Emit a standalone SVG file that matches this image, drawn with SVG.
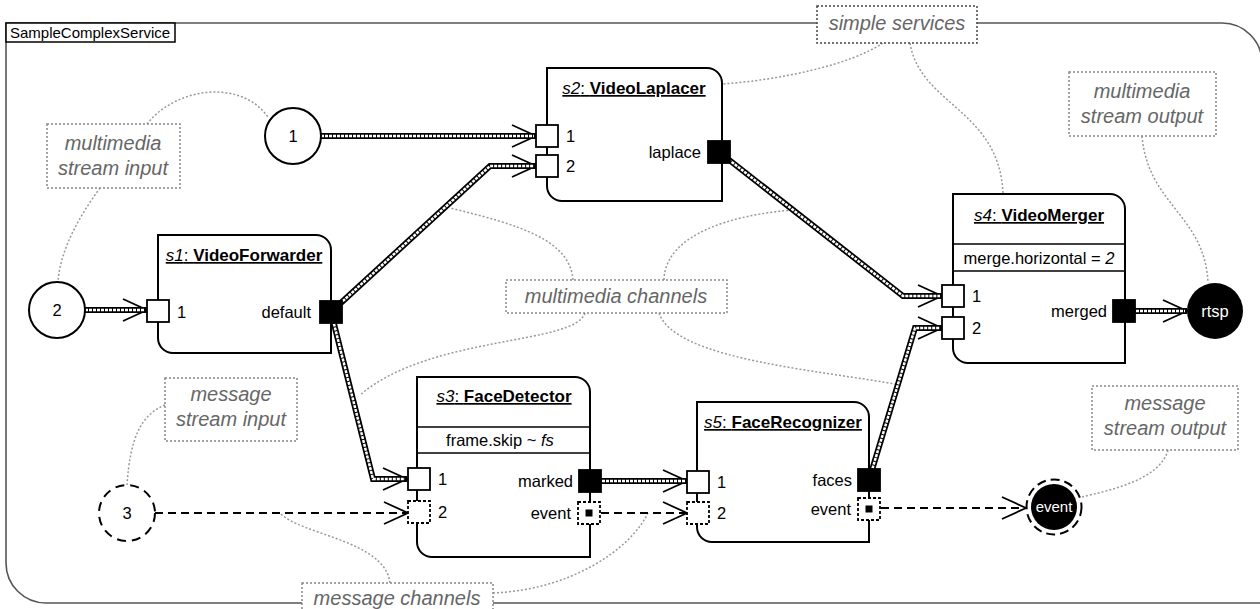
<svg xmlns="http://www.w3.org/2000/svg" width="1260" height="609" viewBox="0 0 1260 609">
<style>
text{font-family:"Liberation Sans",Arial,sans-serif;}
.frame{fill:none;stroke:#555;stroke-width:1.6;}
.box{fill:#fff;stroke:#000;stroke-width:2;}
.sep{stroke:#000;stroke-width:1.5;}
.port{fill:#fff;stroke:#000;stroke-width:1.8;}
.oport{fill:#000;stroke:#000;stroke-width:1.8;}
.mport{fill:#fff;stroke:#000;stroke-width:1.8;stroke-dasharray:3 2;}
.node{fill:#fff;stroke:#000;stroke-width:2;}
.lbl{font-size:16.5px;fill:#000;}
.title{font-size:17px;fill:#000;text-anchor:middle;text-decoration:underline;}
.b{font-weight:bold;}
.i{font-style:italic;}
.note{fill:#fff;stroke:#888;stroke-width:1.5;stroke-dasharray:2 2;}
.ntext{font-size:20px;font-style:italic;fill:#666;text-anchor:middle;}
.lead{fill:none;stroke:#999;stroke-width:1.5;stroke-dasharray:2 2;}
.mmo{fill:none;stroke:#000;stroke-width:6;stroke-linejoin:miter;}
.mmi{fill:none;stroke:#fff;stroke-width:2.5;stroke-dasharray:3 1;}
.msg{fill:none;stroke:#000;stroke-width:1.8;stroke-dasharray:8 5;}
</style>
<defs>
<marker id="arr" markerUnits="userSpaceOnUse" markerWidth="30" markerHeight="30" viewBox="-27 -14 30 28" refX="0" refY="0" orient="auto" overflow="visible">
<path d="M-24,-11 L0,0 L-24,11" fill="none" stroke="#000" stroke-width="1.8"/>
</marker>
</defs>

<g id="frame">
<path class="frame" d="M6,23 H1222 A40,40 0 0 1 1262,63 V603 H46 A40,40 0 0 1 6,563 Z"/>
<rect x="6" y="23" width="169" height="19" fill="#fff" stroke="#000" stroke-width="1.5"/>
<text x="10" y="38" font-size="15px">SampleComplexService</text>
</g>

<g id="leaders">
<path class="lead" d="M147,124 C175,88 240,78 268,117"/>
<path class="lead" d="M100,188 C80,215 60,250 58,282"/>
<path class="lead" d="M883,43 C850,65 780,80 722,84"/>
<path class="lead" d="M910,43 C920,105 1000,110 1003,194"/>
<path class="lead" d="M1142,136 C1148,205 1205,215 1208,283"/>
<path class="lead" d="M573,280 C570,240 520,225 450,208"/>
<path class="lead" d="M664,280 C665,235 730,215 793,210"/>
<path class="lead" d="M585,313 C575,345 430,335 360,395"/>
<path class="lead" d="M659,313 C675,360 820,370 900,385"/>
<path class="lead" d="M165,405 C140,415 130,440 127,485"/>
<path class="lead" d="M390,583 C385,540 300,535 280,513"/>
<path class="lead" d="M493,593 C570,590 630,550 648,513"/>
<path class="lead" d="M1168,450 C1160,480 1110,490 1082,497"/>
</g>

<g id="connectors">
<path class="mmo" marker-end="url(#arr)" d="M321,136 H536"/>
<path class="mmi" d="M321,136 H534"/>
<path class="mmo" marker-end="url(#arr)" d="M331,312 L490,166 H536"/>
<path class="mmi" d="M331,312 L490,166 H534"/>
<path class="mmo" marker-end="url(#arr)" d="M85,310 H147"/>
<path class="mmi" d="M85,310 H145"/>
<path class="mmo" marker-end="url(#arr)" d="M331,312 L373,479 H407"/>
<path class="mmi" d="M331,312 L373,479 H405"/>
<path class="mmo" marker-end="url(#arr)" d="M719,152 L903,296 H942"/>
<path class="mmi" d="M719,152 L903,296 H940"/>
<path class="mmo" marker-end="url(#arr)" d="M1124,311 H1187"/>
<path class="mmi" d="M1124,311 H1185"/>
<path class="mmo" marker-end="url(#arr)" d="M590,481 H687"/>
<path class="mmi" d="M590,481 H685"/>
<path class="mmo" marker-end="url(#arr)" d="M869,480 L915,328 H942"/>
<path class="mmi" d="M869,480 L915,328 H940"/>
<path class="msg" marker-end="url(#arr)" d="M155,513 H408"/>
<path class="msg" marker-end="url(#arr)" d="M601,513 H687"/>
<path class="msg" marker-end="url(#arr)" d="M881,508 H1026"/>
</g>

<g id="n1">
<circle class="node" cx="293" cy="136" r="28"/>
<text class="lbl" x="293" y="142" text-anchor="middle">1</text>
</g>
<g id="n2">
<circle class="node" cx="57" cy="310" r="28"/>
<text class="lbl" x="57" y="316" text-anchor="middle">2</text>
</g>
<g id="n3">
<circle class="node" cx="127" cy="513" r="28" stroke-dasharray="9 6"/>
<text class="lbl" x="127" y="519" text-anchor="middle">3</text>
</g>
<g id="rtsp">
<circle cx="1215" cy="311" r="28" fill="#000"/>
<text class="lbl" x="1215" y="317" text-anchor="middle" style="fill:#fff">rtsp</text>
</g>
<g id="event">
<circle cx="1054" cy="507" r="27.5" fill="none" stroke="#000" stroke-width="2" stroke-dasharray="9 5"/>
<circle cx="1054" cy="507" r="23" fill="#000"/>
<text x="1054" y="512" text-anchor="middle" font-size="15px" fill="#fff">event</text>
</g>

<g id="s1">
<path class="box" d="M158,235 H316 A15,15 0 0 1 331,250 V353 H173 A15,15 0 0 1 158,338 Z"/>
<text class="title" x="244" y="261"><tspan class="i">s1</tspan>: <tspan class="b">VideoForwarder</tspan></text>
<rect class="port" x="147" y="300" width="22" height="22"/>
<text class="lbl" x="177" y="318">1</text>
<rect class="oport" x="320" y="301" width="22" height="22"/>
<text class="lbl" x="311" y="318" text-anchor="end">default</text>
</g>

<g id="s2">
<path class="box" d="M547,68 H707 A15,15 0 0 1 722,83 V201 H562 A15,15 0 0 1 547,186 Z"/>
<text class="title" x="634" y="94"><tspan class="i">s2</tspan>: <tspan class="b">VideoLaplacer</tspan></text>
<rect class="port" x="536" y="125" width="22" height="22"/>
<text class="lbl" x="566" y="142">1</text>
<rect class="port" x="536" y="155" width="22" height="22"/>
<text class="lbl" x="566" y="172">2</text>
<rect class="oport" x="708" y="141" width="22" height="22"/>
<text class="lbl" x="701" y="158" text-anchor="end">laplace</text>
</g>

<g id="s4">
<path class="box" d="M953,194 H1110 A15,15 0 0 1 1125,209 V363 H968 A15,15 0 0 1 953,348 Z"/>
<text class="title" x="1039" y="221"><tspan class="i">s4</tspan>: <tspan class="b">VideoMerger</tspan></text>
<line class="sep" x1="953" y1="244" x2="1125" y2="244"/>
<line class="sep" x1="953" y1="271" x2="1125" y2="271"/>
<text class="lbl" x="1039" y="264" text-anchor="middle">merge.horizontal = <tspan class="i">2</tspan></text>
<rect class="port" x="942" y="285" width="22" height="22"/>
<text class="lbl" x="972" y="302">1</text>
<rect class="port" x="942" y="317" width="22" height="22"/>
<text class="lbl" x="972" y="334">2</text>
<rect class="oport" x="1113" y="300" width="22" height="22"/>
<text class="lbl" x="1107" y="317" text-anchor="end">merged</text>
</g>

<g id="s3">
<path class="box" d="M417,377 H575 A15,15 0 0 1 590,392 V557 H432 A15,15 0 0 1 417,542 Z"/>
<text class="title" x="504" y="402"><tspan class="i">s3</tspan>: <tspan class="b">FaceDetector</tspan></text>
<line class="sep" x1="417" y1="427" x2="590" y2="427"/>
<line class="sep" x1="417" y1="453" x2="590" y2="453"/>
<text class="lbl" x="500" y="446" text-anchor="middle">frame.skip ~ <tspan class="i">fs</tspan></text>
<rect class="port" x="408" y="468" width="22" height="22"/>
<text class="lbl" x="438" y="485">1</text>
<rect class="mport" x="408" y="501" width="22" height="22"/>
<text class="lbl" x="438" y="518">2</text>
<rect class="oport" x="579" y="470" width="22" height="22"/>
<text class="lbl" x="573" y="487" text-anchor="end">marked</text>
<rect class="mport" x="578" y="502" width="22" height="22"/>
<rect x="585.5" y="509.5" width="7" height="7" fill="#000"/>
<text class="lbl" x="571" y="519" text-anchor="end">event</text>
</g>

<g id="s5">
<path class="box" d="M697,402 H854 A15,15 0 0 1 869,417 V542 H712 A15,15 0 0 1 697,527 Z"/>
<text class="title" x="783" y="428"><tspan class="i">s5</tspan>: <tspan class="b">FaceRecognizer</tspan></text>
<rect class="port" x="687" y="471" width="22" height="22"/>
<text class="lbl" x="717" y="488">1</text>
<rect class="mport" x="687" y="502" width="22" height="22"/>
<text class="lbl" x="717" y="519">2</text>
<rect class="oport" x="858" y="469" width="22" height="22"/>
<text class="lbl" x="852" y="486" text-anchor="end">faces</text>
<rect class="mport" x="858" y="498" width="22" height="22"/>
<rect x="865.5" y="505.5" width="7" height="7" fill="#000"/>
<text class="lbl" x="851" y="515" text-anchor="end">event</text>
</g>

<g id="notes">
<g id="note-msi">
<rect class="note" x="47" y="124" width="133" height="64"/>
<text class="ntext" x="113" y="150">multimedia</text>
<text class="ntext" x="113" y="175">stream input</text>
</g>
<g id="note-ss">
<rect class="note" x="817" y="6" width="160" height="37" style="stroke:#444"/>
<text class="ntext" x="897" y="30">simple services</text>
</g>
<g id="note-mso">
<rect class="note" x="1069" y="72" width="147" height="64"/>
<text class="ntext" x="1142" y="98">multimedia</text>
<text class="ntext" x="1142" y="123">stream output</text>
</g>
<g id="note-mc">
<rect class="note" x="506" y="280" width="221" height="33"/>
<text class="ntext" x="616" y="303">multimedia channels</text>
</g>
<g id="note-msgsi">
<rect class="note" x="165" y="378" width="132" height="63"/>
<text class="ntext" x="231" y="401">message</text>
<text class="ntext" x="231" y="426">stream input</text>
</g>
<g id="note-msgso">
<rect class="note" x="1092" y="386" width="146" height="64"/>
<text class="ntext" x="1165" y="410">message</text>
<text class="ntext" x="1165" y="435">stream output</text>
</g>
<g id="note-msgc">
<rect class="note" x="302" y="583" width="191" height="40"/>
<text class="ntext" x="397" y="605">message channels</text>
</g>
</g>
</svg>
